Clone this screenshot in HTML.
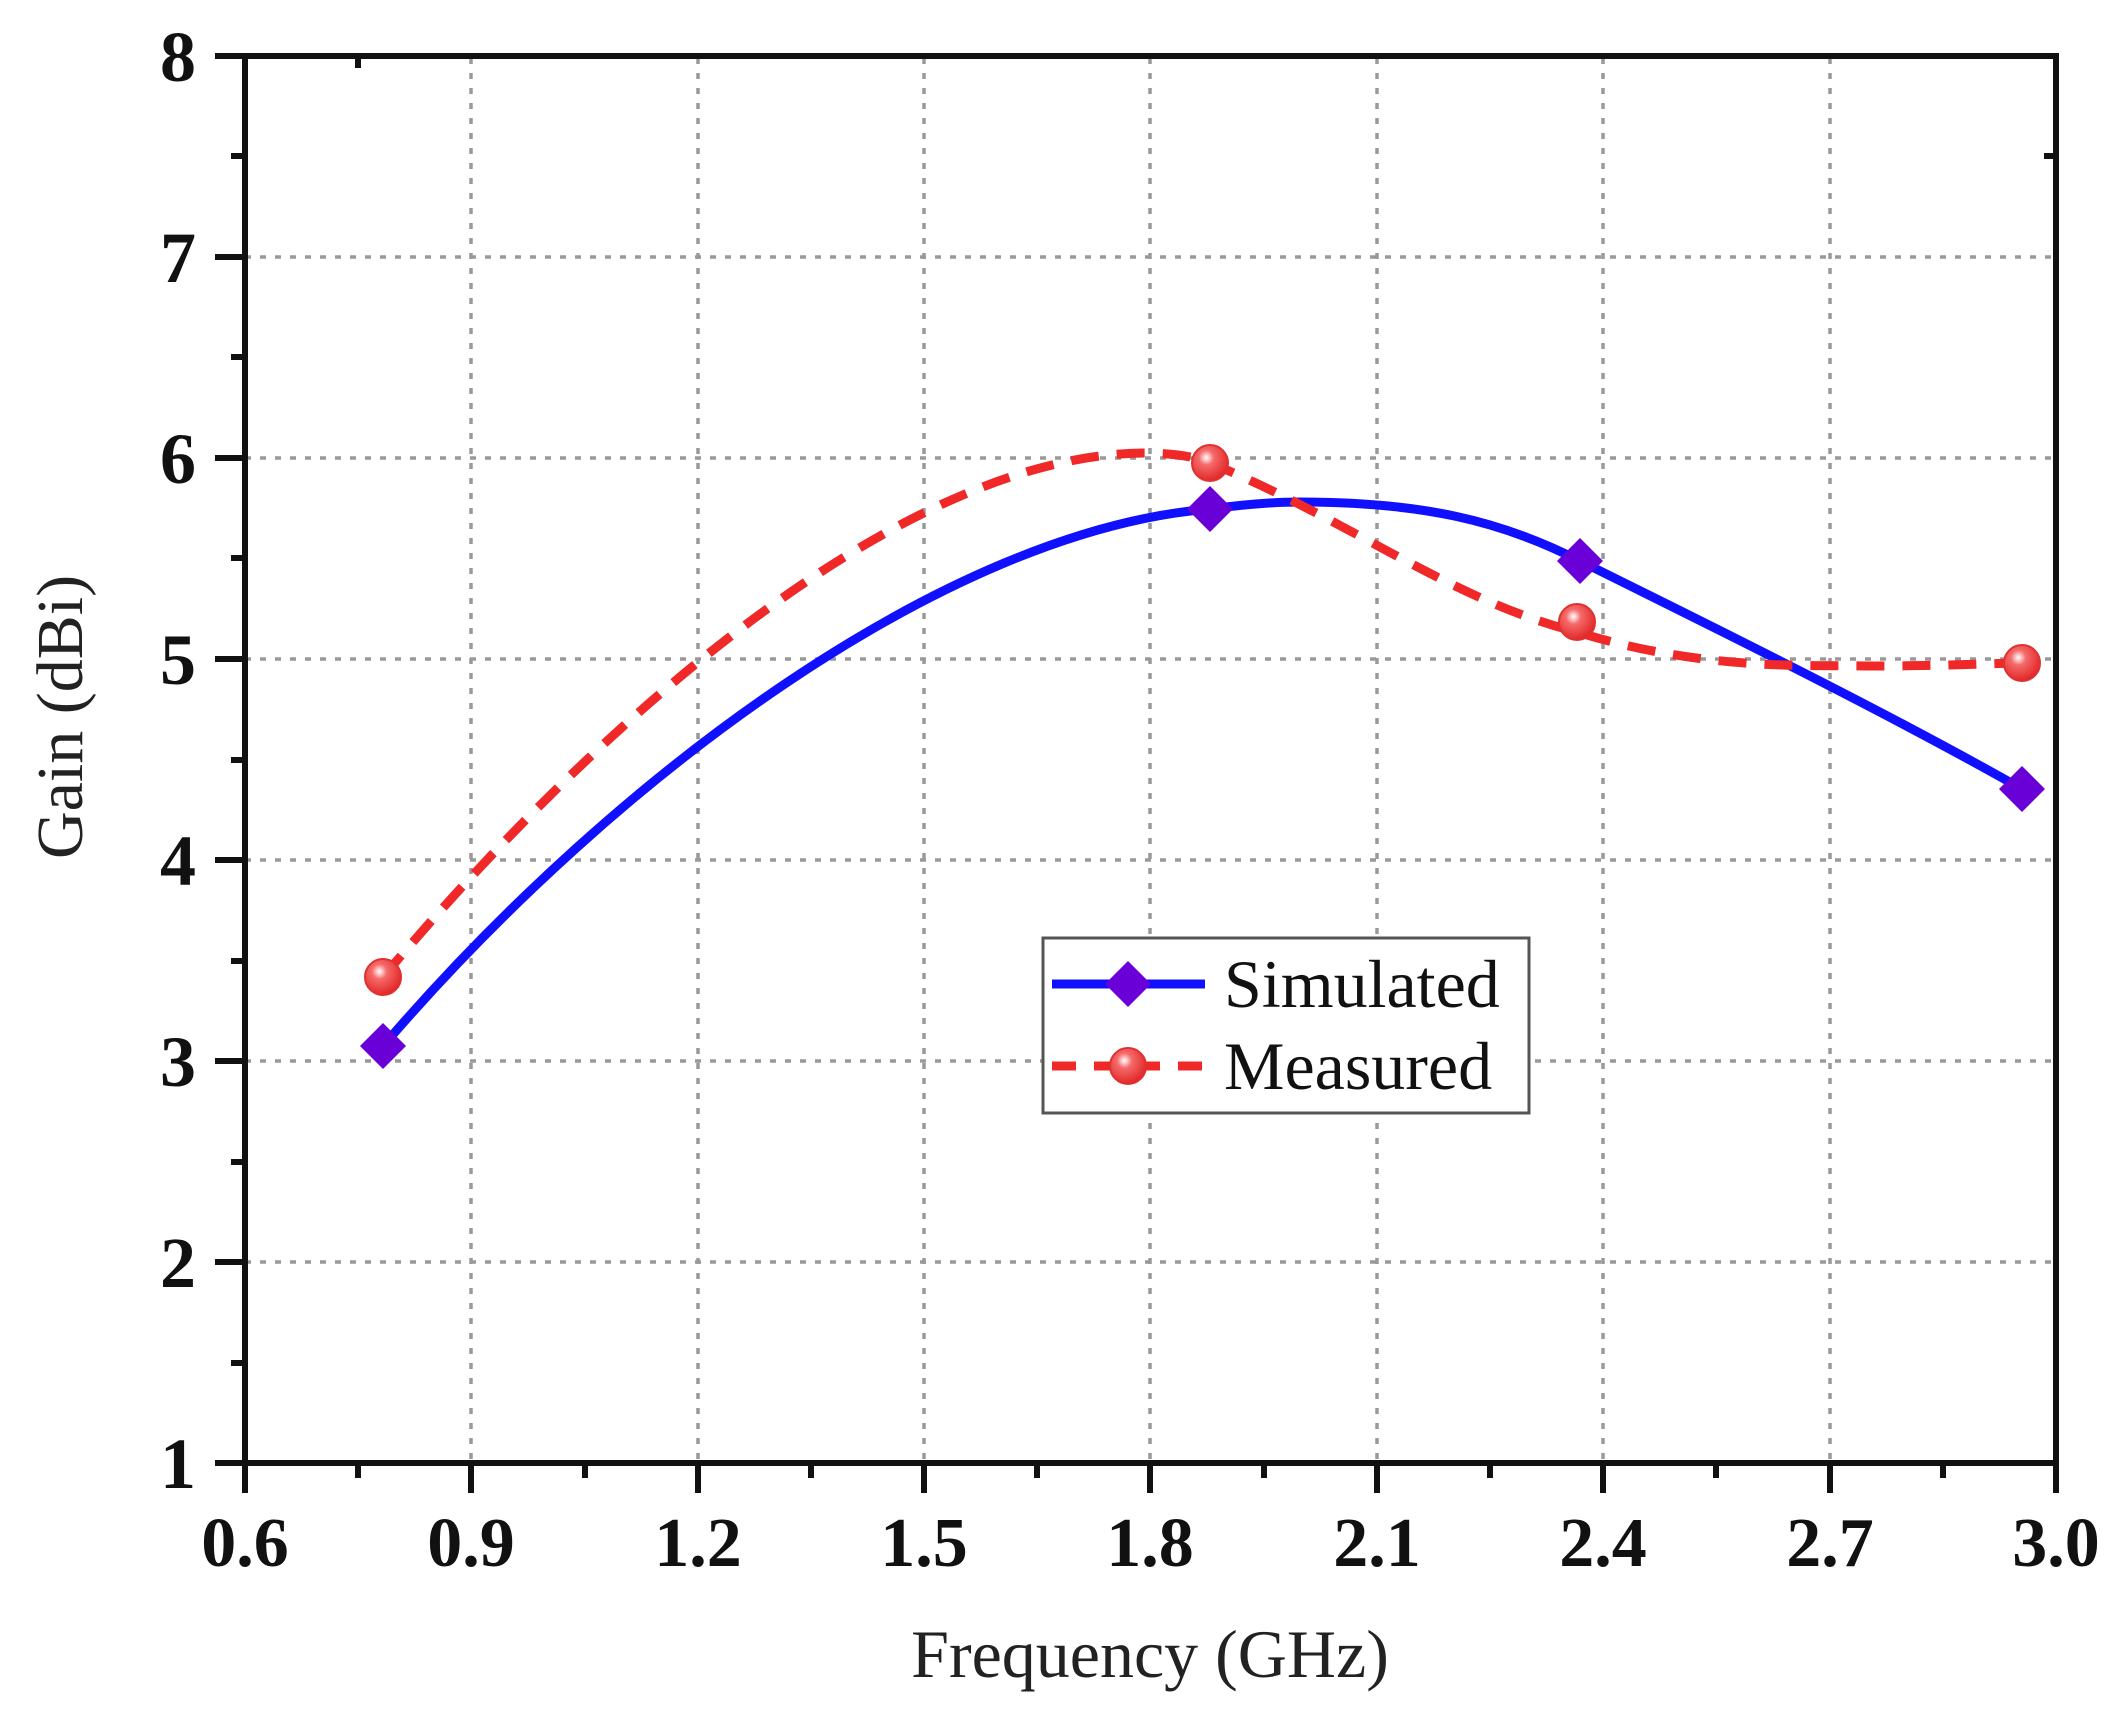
<!DOCTYPE html>
<html><head><meta charset="utf-8"><style>
html,body{margin:0;padding:0;background:#fff;}
svg{display:block;}
text{font-family:"Liberation Serif",serif;}
</style></head><body>
<svg width="2121" height="1719" viewBox="0 0 2121 1719" xmlns="http://www.w3.org/2000/svg">
<defs>
<radialGradient id="rg" cx="0.4" cy="0.35" r="0.7">
<stop offset="0" stop-color="#fff"/><stop offset="0.3" stop-color="#f56a6a"/><stop offset="1" stop-color="#e02020"/>
</radialGradient>
</defs>
<g stroke="#999" stroke-width="3.5" stroke-dasharray="6,9">
<line x1="471" y1="58" x2="471" y2="1463"/>
<line x1="698" y1="58" x2="698" y2="1463"/>
<line x1="924" y1="58" x2="924" y2="1463"/>
<line x1="1150" y1="58" x2="1150" y2="1463"/>
<line x1="1377" y1="58" x2="1377" y2="1463"/>
<line x1="1603" y1="58" x2="1603" y2="1463"/>
<line x1="1830" y1="58" x2="1830" y2="1463"/>
<line x1="245" y1="257" x2="2056" y2="257"/>
<line x1="245" y1="458" x2="2056" y2="458"/>
<line x1="245" y1="659" x2="2056" y2="659"/>
<line x1="245" y1="860" x2="2056" y2="860"/>
<line x1="245" y1="1061" x2="2056" y2="1061"/>
<line x1="245" y1="1262" x2="2056" y2="1262"/>
</g>
<rect x="245" y="56" width="1811" height="1407" fill="none" stroke="#111" stroke-width="6"/>
<g stroke="#111" stroke-width="6">
<line x1="215" y1="56" x2="245" y2="56"/><line x1="215" y1="257" x2="245" y2="257"/><line x1="215" y1="458" x2="245" y2="458"/><line x1="215" y1="659" x2="245" y2="659"/><line x1="215" y1="860" x2="245" y2="860"/><line x1="215" y1="1061" x2="245" y2="1061"/><line x1="215" y1="1262" x2="245" y2="1262"/><line x1="215" y1="1463" x2="245" y2="1463"/>
<line x1="231" y1="156" x2="245" y2="156"/><line x1="231" y1="357" x2="245" y2="357"/><line x1="231" y1="558" x2="245" y2="558"/><line x1="231" y1="760" x2="245" y2="760"/><line x1="231" y1="961" x2="245" y2="961"/><line x1="231" y1="1162" x2="245" y2="1162"/><line x1="231" y1="1363" x2="245" y2="1363"/>
<line x1="245" y1="1463" x2="245" y2="1493"/><line x1="471" y1="1463" x2="471" y2="1493"/><line x1="698" y1="1463" x2="698" y2="1493"/><line x1="924" y1="1463" x2="924" y2="1493"/><line x1="1150" y1="1463" x2="1150" y2="1493"/><line x1="1377" y1="1463" x2="1377" y2="1493"/><line x1="1603" y1="1463" x2="1603" y2="1493"/><line x1="1830" y1="1463" x2="1830" y2="1493"/><line x1="2056" y1="1463" x2="2056" y2="1493"/>
<line x1="358" y1="1463" x2="358" y2="1478"/><line x1="585" y1="1463" x2="585" y2="1478"/><line x1="811" y1="1463" x2="811" y2="1478"/><line x1="1037" y1="1463" x2="1037" y2="1478"/><line x1="1264" y1="1463" x2="1264" y2="1478"/><line x1="1490" y1="1463" x2="1490" y2="1478"/><line x1="1716" y1="1463" x2="1716" y2="1478"/><line x1="1943" y1="1463" x2="1943" y2="1478"/>
<line x1="358" y1="56" x2="358" y2="68"/><line x1="2056" y1="156" x2="2044" y2="156"/>
</g>
<g font-size="72" font-weight="bold" fill="#111" text-anchor="end">
<text x="196" y="81">8</text><text x="196" y="282">7</text><text x="196" y="483">6</text><text x="196" y="684">5</text><text x="196" y="885">4</text><text x="196" y="1086">3</text><text x="196" y="1287">2</text><text x="196" y="1488">1</text>
</g>
<g font-size="70" font-weight="bold" fill="#111" text-anchor="middle">
<text x="245" y="1566">0.6</text><text x="471" y="1566">0.9</text><text x="698" y="1566">1.2</text><text x="924" y="1566">1.5</text><text x="1150" y="1566">1.8</text><text x="1377" y="1566">2.1</text><text x="1603" y="1566">2.4</text><text x="1830" y="1566">2.7</text><text x="2056" y="1566">3.0</text>
</g>
<text x="1150" y="1677" font-size="68" text-anchor="middle" fill="#222">Frequency (GHz)</text>
<text transform="translate(82,717) rotate(-90)" font-size="66" text-anchor="middle" fill="#222">Gain (dBi)</text>
<path d="M383,1046 C620,770 950,530 1210,509 C1240,505 1270,502 1300,502 C1420,502 1500,520 1580,561 C1760,650 1900,720 2022,789" fill="none" stroke="#1010ff" stroke-width="9"/>
<path d="M383,977 C590,730 900,450 1150,453 C1180,454 1195,457 1210,463 C1350,520 1450,600 1577,632 C1700,670 1800,665 1867,666 C1950,666 2000,663 2022,663" fill="none" stroke="#f02828" stroke-width="9" stroke-dasharray="28,18"/>
<g fill="#6a00d8">
<path d="M383,1023 L406,1046 L383,1069 L360,1046Z"/>
<path d="M1210,486 L1233,509 L1210,532 L1187,509Z"/>
<path d="M1580,538 L1603,561 L1580,584 L1557,561Z"/>
<path d="M2022,766 L2045,789 L2022,812 L1999,789Z"/>
</g>
<g fill="url(#rg)" stroke="#e03030" stroke-width="2">
<circle cx="383" cy="977" r="18"/><circle cx="1210" cy="463" r="18"/><circle cx="1577" cy="622" r="18"/><circle cx="2022" cy="663" r="18"/>
</g>
<rect x="1043" y="938" width="486" height="175" fill="#fff" stroke="#555" stroke-width="3"/>
<line x1="1052" y1="984" x2="1205" y2="984" stroke="#1010ff" stroke-width="9"/>
<path d="M1128,961 L1151,984 L1128,1007 L1105,984Z" fill="#6a00d8"/>
<line x1="1052" y1="1066" x2="1205" y2="1066" stroke="#f02828" stroke-width="9" stroke-dasharray="24,18"/>
<circle cx="1128" cy="1066" r="18" fill="url(#rg)" stroke="#e03030" stroke-width="2"/>
<g font-size="68" fill="#111">
<text x="1224" y="1007">Simulated</text>
<text x="1224" y="1089">Measured</text>
</g>
</svg>
</body></html>
